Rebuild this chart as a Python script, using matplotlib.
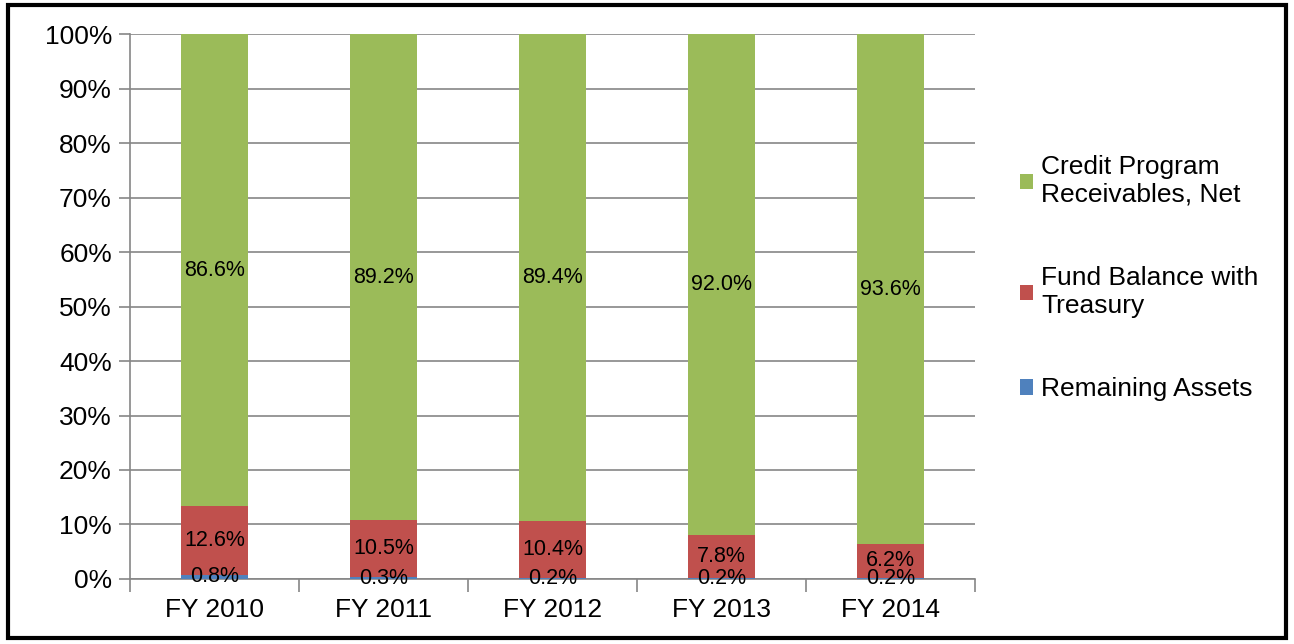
import matplotlib
matplotlib.use("Agg")
import matplotlib.pyplot as plt
import matplotlib.patches
import numpy as np

years = ["FY 2010", "FY 2011", "FY 2012", "FY 2013", "FY 2014"]
remaining = [0.8, 0.3, 0.2, 0.2, 0.2]
fund_balance = [12.6, 10.5, 10.4, 7.8, 6.2]
credit = [86.6, 89.2, 89.4, 92.0, 93.6]
y_ticks = [0, 10, 20, 30, 40, 50, 60, 70, 80, 90, 100]

plt.rcParams['font.family'] = ['Liberation Sans', 'DejaVu Sans']


def main():
    fig = plt.figure(figsize=(12.94, 6.44), dpi=100)
    ax = fig.add_axes([0.1005, 0.101, 0.653, 0.846])

    x = np.arange(len(years))
    w = 0.4
    blue, red, green = '#4F81BD', '#C0504D', '#9BBB59'

    b1 = ax.bar(x, remaining, w, color=blue, zorder=3, label='Remaining Assets')
    bottom2 = np.array(remaining)
    b2 = ax.bar(x, fund_balance, w, bottom=bottom2, color=red, zorder=3,
                label='Fund Balance with\nTreasury')
    bottom3 = bottom2 + np.array(fund_balance)
    b3 = ax.bar(x, credit, w, bottom=bottom3, color=green, zorder=3,
                label='Credit Program\nReceivables, Net')

    # labels centred in each segment
    for i in range(len(years)):
        ax.text(x[i], remaining[i] / 2, f"{remaining[i]:.1f}%", ha='center', va='center',
                fontsize=15.5, zorder=4)
        ax.text(x[i], bottom2[i] + fund_balance[i] / 2, f"{fund_balance[i]:.1f}%",
                ha='center', va='center', fontsize=15.5, zorder=4)
        ax.text(x[i], bottom3[i] + credit[i] / 2, f"{credit[i]:.1f}%",
                ha='center', va='center', fontsize=15.5, zorder=4)

    ax.set_xlim(-0.5, len(years) - 0.5)
    ax.set_ylim(0, 100)
    ax.set_yticks(y_ticks)
    ax.set_yticklabels([f"{t}%" for t in y_ticks], fontsize=19)
    ax.set_xticks(x)
    ax.set_xticklabels(years, fontsize=19)
    ax.set_xticks(np.arange(-0.5, len(years)), minor=True)
    ax.tick_params(axis='x', which='major', length=0, pad=14)
    ax.tick_params(axis='x', which='minor', length=9, color='#868686', width=1.2)
    ax.tick_params(axis='y', length=8, color='#868686', width=1.2, pad=5)

    ax.grid(axis='y', color='#868686', linewidth=1.2, zorder=0)
    for s in ['top', 'right']:
        ax.spines[s].set_visible(False)
    for s in ['left', 'bottom']:
        ax.spines[s].set_color('#868686')
        ax.spines[s].set_linewidth(1.2)

    ax.legend(handles=[b3, b2, b1], loc='center left', bbox_to_anchor=(1.025, 0.552),
              frameon=False, fontsize=19, labelspacing=2.25, handlelength=0.5,
              handleheight=0.5, handletextpad=0.3, borderpad=0.4)

    fig.patches.append(matplotlib.patches.Rectangle(
        (0.006, 0.01), 0.988, 0.982, transform=fig.transFigure,
        fill=False, edgecolor='black', linewidth=3))

    fig.savefig("out.png", dpi=100)


if __name__ == "__main__":
    main()
